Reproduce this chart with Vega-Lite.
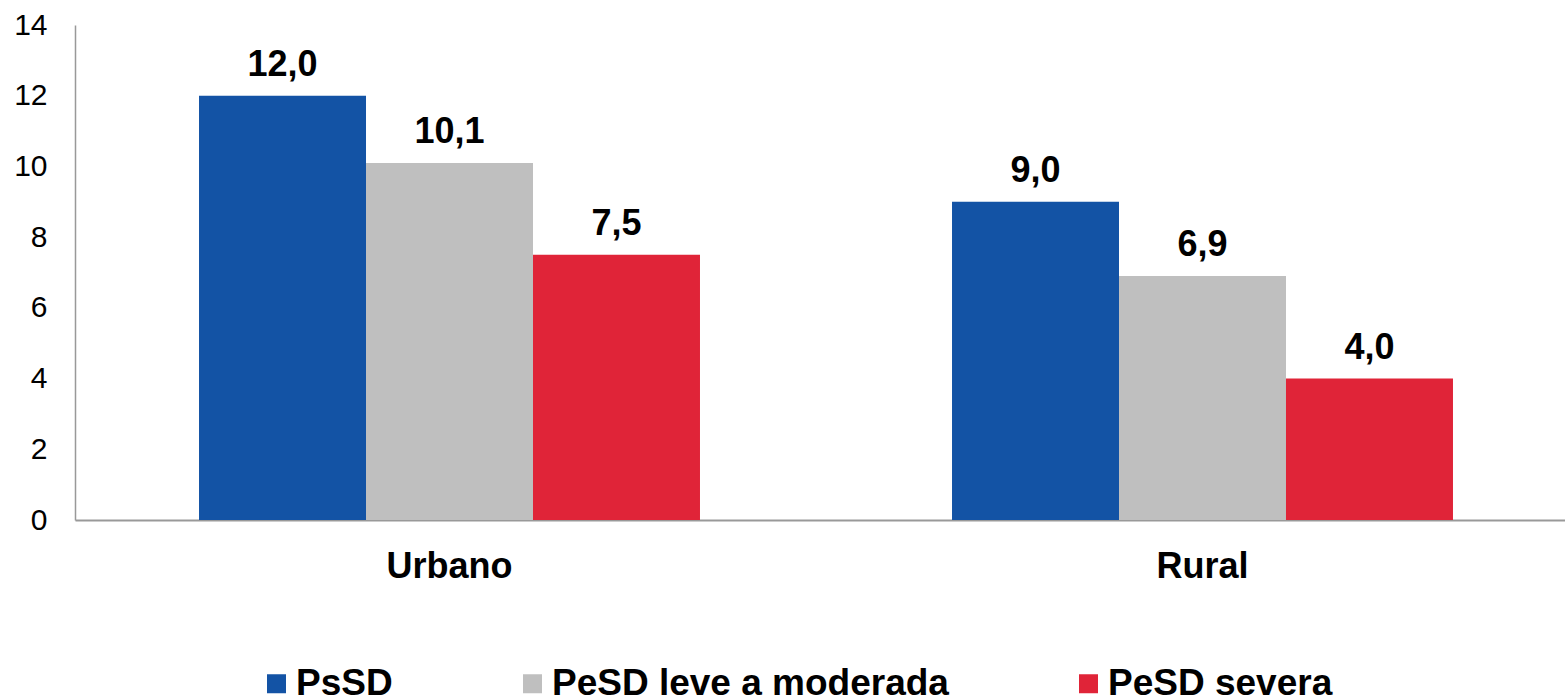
{
  "$schema": "https://vega.github.io/schema/vega-lite/v6.json",
  "width": 1502,
  "height": 495,
  "autosize": {"type": "none"},
  "padding": {"left": 75, "top": 25, "right": 0, "bottom": 179},
  "background": "white",
  "config": {
    "view": {"stroke": null},
    "font": "Liberation Sans",
    "locale": {"number": {"decimal": ",", "thousands": ".", "grouping": [3], "currency": ["", ""]}}
  },
  "data": {
    "values": [
      {"area": "Urbano", "grupo": "PsSD", "valor": 12.0},
      {"area": "Urbano", "grupo": "PeSD leve a moderada", "valor": 10.1},
      {"area": "Urbano", "grupo": "PeSD severa", "valor": 7.5},
      {"area": "Rural", "grupo": "PsSD", "valor": 9.0},
      {"area": "Rural", "grupo": "PeSD leve a moderada", "valor": 6.9},
      {"area": "Rural", "grupo": "PeSD severa", "valor": 4.0}
    ]
  },
  "encoding": {
    "x": {
      "field": "area", "type": "nominal", "sort": ["Urbano", "Rural"],
      "scale": {"paddingInner": 0.3347, "paddingOuter": 0.1647},
      "axis": {
        "title": null, "ticks": false, "tickSize": 0, "labelAngle": 0,
        "labelFont": "Liberation Sans", "labelFontSize": 36, "labelFontWeight": "bold",
        "labelColor": "#000000", "labelBaseline": "alphabetic", "labelPadding": 57,
        "domainColor": "#999999", "domainWidth": 2
      }
    },
    "xOffset": {
      "field": "grupo", "type": "nominal",
      "sort": ["PsSD", "PeSD leve a moderada", "PeSD severa"],
      "scale": {"paddingInner": 0, "paddingOuter": 0}
    },
    "y": {
      "field": "valor", "type": "quantitative",
      "scale": {"domain": [0, 14], "nice": false},
      "axis": {
        "title": null, "values": [0, 2, 4, 6, 8, 10, 12, 14], "grid": false,
        "ticks": false, "tickSize": 0, "labelPadding": 28,
        "labelFont": "Liberation Sans", "labelFontSize": 30, "labelColor": "#000000",
        "domainColor": "#999999", "domainWidth": 1.5
      }
    }
  },
  "layer": [
    {
      "mark": {"type": "bar"},
      "encoding": {
        "color": {
          "field": "grupo", "type": "nominal",
          "sort": ["PsSD", "PeSD leve a moderada", "PeSD severa"],
          "scale": {"domain": ["PsSD", "PeSD leve a moderada", "PeSD severa"], "range": ["#1353A5", "#BFBFBF", "#E02438"]},
          "legend": {
            "title": null, "orient": "none", "direction": "horizontal",
            "legendX": 183, "legendY": 640, "padding": 0,
            "symbolType": "square", "symbolSize": 361, "symbolStrokeWidth": 0,
            "labelFont": "Liberation Sans", "labelFontSize": 37, "labelFontWeight": "bold",
            "labelColor": "#000000", "labelOffset": 1, "labelLimit": 1000,
            "columnPadding": 121
          }
        }
      }
    },
    {
      "mark": {
        "type": "text", "baseline": "alphabetic", "dy": -20,
        "font": "Liberation Sans", "fontSize": 36, "fontWeight": "bold", "color": "#000000"
      },
      "encoding": {
        "text": {"field": "valor", "type": "quantitative", "format": ".1f"}
      }
    }
  ]
}
